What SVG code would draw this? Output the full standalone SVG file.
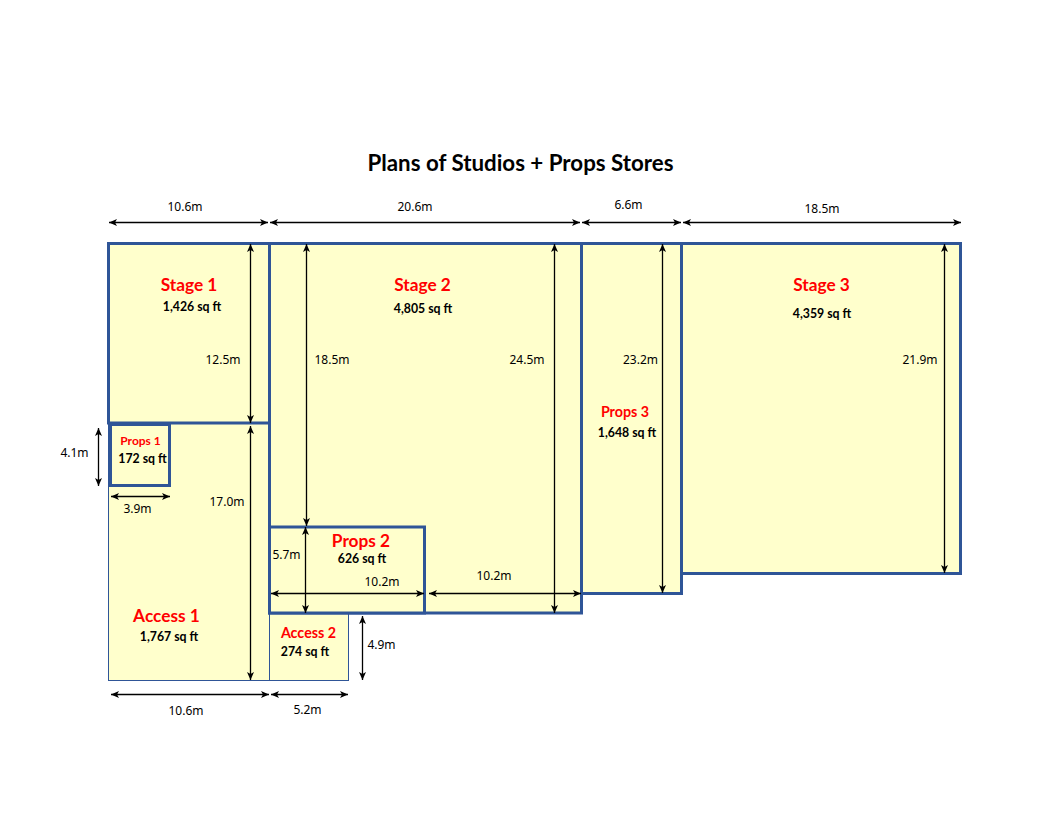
<svg xmlns="http://www.w3.org/2000/svg" width="1040" height="833" viewBox="0 0 1040 833">
<style>
.room{fill:#ffffcc;stroke:#2f5597;stroke-width:3}
.thin{fill:#ffffcc;stroke:#2f5597;stroke-width:1}
.dim{stroke:#000;stroke-width:1.3;fill:none;marker-start:url(#a);marker-end:url(#a)}
text{text-anchor:middle}
.t{font:bold 22.3px "Lato","Liberation Sans",sans-serif;fill:#000}
.n1{font:bold 17.300px "Lato","Liberation Sans",sans-serif;fill:#ff0000}
.n2{font:bold 14.300px "Lato","Liberation Sans",sans-serif;fill:#ff0000}
.n3{font:bold 12px "Lato","Liberation Sans",sans-serif;fill:#ff0000}
.a{font:bold 12.300px "Lato","Liberation Sans",sans-serif;fill:#000}
.d{font:12px "Noto Sans","Liberation Sans",sans-serif;fill:#000}
</style>
<defs>
<marker id="a" viewBox="0 0 8 8" refX="8" refY="4" markerWidth="8" markerHeight="8" markerUnits="userSpaceOnUse" orient="auto-start-reverse"><path d="M0 .5L8 4L0 7.500L2 4Z" fill="#000"/></marker>
</defs>
<text class="t" x="520.500" y="171">Plans of Studios + Props Stores</text>
<g id="access-1"><rect class="thin" x="108.500" y="423" width="161" height="257.500"/><text class="n1" x="166.500" y="622">Access 1</text><text class="a" x="169" y="641">1,767 sq ft</text></g>
<g id="access-2"><rect class="thin" x="269.500" y="613" width="79" height="67.500"/><text class="n2" x="308.500" y="638">Access 2</text><text class="a" x="305" y="656">274 sq ft</text></g>
<g id="stage-1"><rect class="room" x="108.500" y="243.500" width="161" height="179.500"/><text class="n1" x="189" y="291">Stage 1</text><text class="a" x="192" y="311">1,426 sq ft</text></g>
<g id="stage-2"><rect class="room" x="269.500" y="243.500" width="312" height="369.500"/><text class="n1" x="422.500" y="291">Stage 2</text><text class="a" x="423" y="313">4,805 sq ft</text></g>
<g id="props-3"><rect class="room" x="581.500" y="243.500" width="100" height="350"/><text class="n2" x="625" y="417">Props 3</text><text class="a" x="627" y="437">1,648 sq ft</text></g>
<g id="stage-3"><rect class="room" x="681.500" y="243.500" width="279" height="330"/><text class="n1" x="821.500" y="291">Stage 3</text><text class="a" x="822" y="318">4,359 sq ft</text></g>
<g id="props-1"><rect class="room" x="110.500" y="424.500" width="59" height="61"/><text class="n3" x="140.500" y="445">Props 1</text><text class="a" x="142.500" y="463">172 sq ft</text></g>
<g id="props-2"><rect class="room" x="269.500" y="527" width="155" height="86"/><text class="n1" x="361" y="547">Props 2</text><text class="a" x="362" y="563">626 sq ft</text></g>
<g id="connectors">
<path class="dim" d="M109 222.500H268"/><path class="dim" d="M270 222.500H580"/><path class="dim" d="M582 222.500H681"/><path class="dim" d="M683 222.500H961"/>
<path class="dim" d="M250.500 244V423"/><path class="dim" d="M306.500 244V526"/><path class="dim" d="M554.500 244V613"/><path class="dim" d="M662.500 244V593"/><path class="dim" d="M944.500 244V573"/>
<path class="dim" d="M250.500 426V680"/><path class="dim" d="M98.500 428V486"/><path class="dim" d="M111 496.500H170"/><path class="dim" d="M305.500 527V613"/>
<path class="dim" d="M271 593.500H424"/><path class="dim" d="M429 593.500H581"/><path class="dim" d="M362.500 616V680"/>
<path class="dim" d="M111 694.500H269"/><path class="dim" d="M271 694.500H348"/>
</g>
<g id="labels">
<text class="d" x="185" y="211">10.6m</text><text class="d" x="415" y="211">20.6m</text><text class="d" x="628.500" y="209">6.6m</text><text class="d" x="822" y="213">18.5m</text>
<text class="d" x="223" y="364">12.5m</text><text class="d" x="332" y="364">18.5m</text><text class="d" x="527" y="364">24.5m</text><text class="d" x="640.500" y="364">23.2m</text><text class="d" x="920" y="364">21.9m</text>
<text class="d" x="74.500" y="457">4.1m</text><text class="d" x="137.500" y="513">3.9m</text><text class="d" x="227" y="506">17.0m</text><text class="d" x="286.500" y="559">5.7m</text>
<text class="d" x="382" y="586">10.2m</text><text class="d" x="494" y="580">10.2m</text><text class="d" x="381.500" y="649">4.9m</text><text class="d" x="186" y="715">10.6m</text><text class="d" x="307.500" y="714">5.2m</text>
</g>
</svg>
